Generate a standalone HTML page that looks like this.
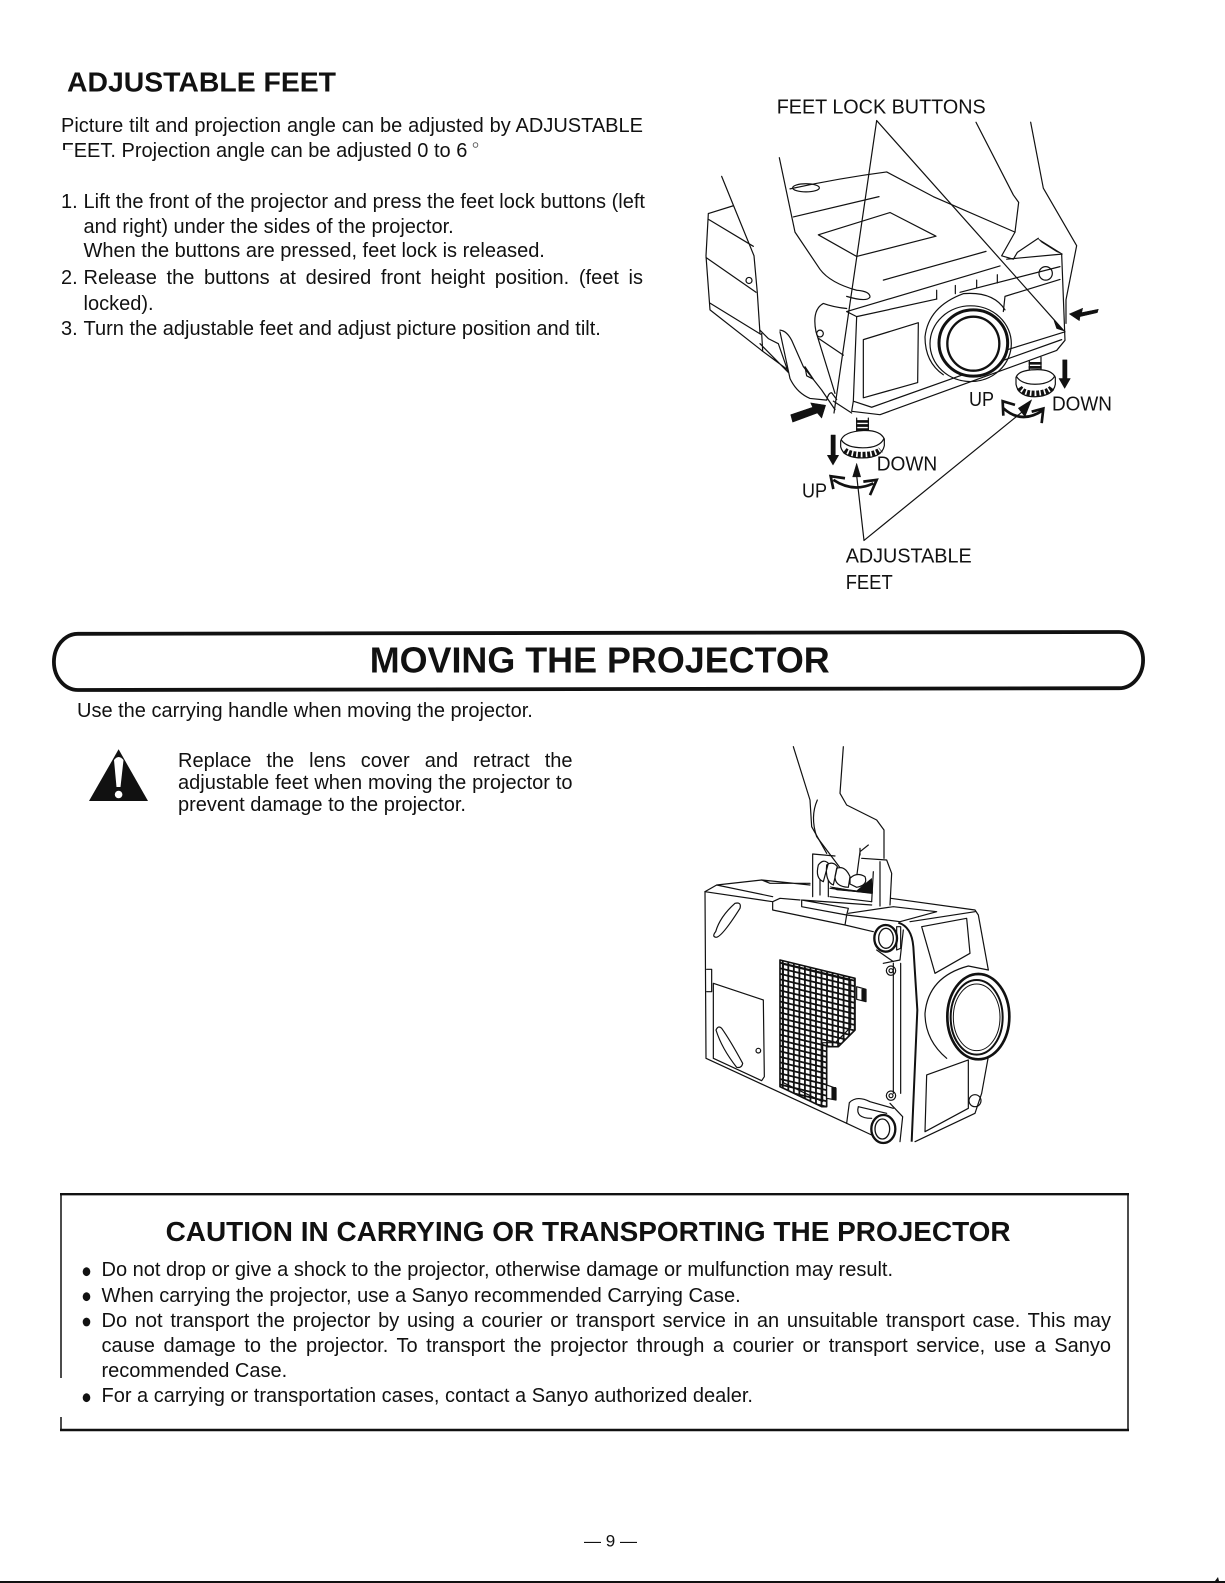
<!DOCTYPE html>
<html lang="en"><head><meta charset="utf-8"><title>Adjustable Feet</title>
<style>
html,body{margin:0;padding:0;background:#fff}
#p{position:relative;width:1225px;height:1583px;overflow:hidden;background:#fff;font-family:"Liberation Sans",Arial,sans-serif;color:#111}
.t{position:absolute;height:0;line-height:0;font-size:20px;white-space:nowrap;text-align:justify;text-align-last:justify;top:calc(var(--b)*1px - .3465em)}
svg{position:absolute;left:0;top:0}
svg text{font-family:"Liberation Sans",Arial,sans-serif;fill:#111}
.l{fill:none;stroke:#111;stroke-width:3.6;stroke-linejoin:round;stroke-linecap:round}
.k{fill:#111;stroke:#111;stroke-width:1.5;stroke-linejoin:round}
.w{fill:#fff;stroke:#111;stroke-width:3.6;stroke-linejoin:round}
.c{fill:none;stroke:#111;stroke-width:8;stroke-linejoin:miter;stroke-linecap:butt}
</style></head><body><div id="p">
<svg width="1225" height="1583" viewBox="0 0 1225 1583">
<defs>
<pattern id="g" width="16.6" height="16.6" patternUnits="userSpaceOnUse" patternTransform="translate(300 690) skewY(13.5)">
<rect width="16.6" height="16.6" fill="#fff"/><path d="M0 8.3H16.6M8.3 0V16.6" stroke="#111" stroke-width="5.4"/></pattern>
</defs>

<!-- ===== figure 1 ===== -->
<g transform="translate(680 80) scale(.33333 .33806)">
<!-- rear body -->
<path class="l" d="M85 395L160 372M85 395L78 520L90 680L245 800L320 855M85 412L220 492M78 525L228 628M90 660L242 752M245 750L248 800M240 740L265 765L295 780L325 865M240 780L325 865"/>
<circle class="l" cx="207" cy="593" r="9"/>
<!-- top -->
<path class="l" d="M330 322Q480 290 620 272L760 345L1005 450M340 405L597 345"/>
<ellipse class="l" cx="378" cy="319" rx="40" ry="12"/>
<path class="l" d="M415 458L630 392L768 462L530 522ZM610 592L918 507"/>
<!-- hands -->
<path class="l" d="M125 285L160 370L222 520L232 630L240 750"/>
<path class="l" d="M298 230L345 450L420 560Q450 600 530 622Q570 625 570 642Q560 658 500 640"/>
<path class="l" d="M888 125L1000 340L1016 362L1005 450L965 520L1000 530L1012 510L1075 468"/>
<path class="l" d="M1052 125L1090 320L1190 490L1158 650V720"/>
<!-- lower-left hand and side panel -->
<path class="l" d="M300 740Q320 742 335 770L370 848L425 917L465 975"/>
<path class="l" d="M375 848L400 885L380 875Z"/>
<path class="l" d="M300 745L330 883Q350 925 390 942L440 947Q445 925 455 925L470 945"/>
<path class="l" d="M430 661Q395 680 408 745L465 927M430 661Q460 672 500 676M415 764L490 814"/>
<circle class="l" cx="420" cy="750" r="10"/>
<path class="l" d="M460 950L515 985"/>
<!-- front housing -->
<path class="l" d="M500 685L960 550M980 530L1145 515L1155 770M500 685L530 700L520 950L515 980L600 990L1130 800L1155 770M520 950L575 968L1145 768"/>
<path class="l" d="M530 700L770 648M840 628L1140 552"/>
<path class="l" d="M975 640L1140 590M975 640L970 685M1155 745L975 800"/>
<path class="k" stroke-width="5" d="M1075 470L1148 515L1130 508L1085 480Z"/>
<path class="l" d="M550 768L715 718L713 895L550 940Z"/>
<path class="l" d="M770 622V648M826 608V632M890 592V615M952 576V600"/>
<circle class="l" cx="1097" cy="572" r="20"/>
<!-- lens -->
<path class="l" d="M790 872Q735 835 735 760Q745 670 850 632Q940 625 975 680"/>
<ellipse class="l" cx="872" cy="780" rx="122" ry="112" />
<ellipse cx="880" cy="778" rx="103" ry="98" fill="#fff" stroke="#111" stroke-width="9"/>
<ellipse cx="880" cy="780" rx="78" ry="80" fill="#fff" stroke="#111" stroke-width="7"/>
<!-- leaders -->
<path class="l" stroke-width="3" d="M590 120L462 985M590 120L1150 740M552 1362L530 1170M552 1362L1025 983"/>
<path class="k" d="M1122 712L1152 742L1130 735Z"/>
<path class="k" d="M530 1134L542 1174L518 1174Z"/>
<path class="k" d="M1055 946L1035 996L1015 971Z"/>
<!-- left foot -->
<path class="l" d="M530 1000V1055M565 1000V1055"/>
<path stroke="#111" stroke-width="8" fill="none" d="M528 1010H567M528 1022H567M528 1034H567M528 1046H567"/>
<path class="w" d="M482 1068V1085Q490 1118 548 1118Q605 1118 613 1082V1062Q600 1035 550 1037Q490 1040 482 1068Z"/>
<path class="l" d="M484 1065Q500 1088 548 1088Q600 1088 612 1060"/>
<path fill="none" stroke="#111" stroke-width="18" stroke-dasharray="9 5" d="M494 1096Q510 1109 548 1109Q585 1109 602 1094"/>
<!-- right foot -->
<path class="l" d="M1048 830V880M1083 820V875"/>
<path stroke="#111" stroke-width="8" fill="none" d="M1046 838H1085M1046 850H1085M1046 862H1085M1046 874H1085"/>
<path class="w" d="M1008 880V900Q1015 937 1065 937Q1120 935 1126 900V880Q1115 855 1065 857Q1015 858 1008 880Z"/>
<path class="l" d="M1010 878Q1025 900 1065 900Q1110 900 1124 876"/>
<path fill="none" stroke="#111" stroke-width="18" stroke-dasharray="9 5" d="M1018 910Q1030 928 1065 928Q1105 926 1116 910"/>
<!-- block arrows -->
<path class="k" d="M332 990L398 968L392 955L437 962L425 1000L412 985L338 1012Z"/>
<path class="k" d="M1255 678L1205 688L1208 675L1168 692L1198 712L1200 700L1252 688Z"/>
<path class="k" d="M453 1050H466V1110L476 1110L459 1139L442 1110L453 1110Z"/>
<path class="k" d="M1148 828H1161V883L1171 883L1154 912L1137 883L1148 883Z"/>
<!-- curved arrows -->
<path class="c" d="M460 1183Q520 1222 580 1193M970 971Q1025 1020 1090 976"/>
<path class="c" d="M460 1210L452 1172L495 1178M550 1188L590 1183L570 1228M970 993L968 950L1005 961M1055 981L1090 972L1085 1015"/>
</g>
<g font-size="20">
<text x="776.7" y="113.5" textLength="209" lengthAdjust="spacingAndGlyphs">FEET LOCK BUTTONS</text>
<text x="1052" y="410.3" textLength="60" lengthAdjust="spacingAndGlyphs">DOWN</text>
<text x="969" y="406.2" textLength="25" lengthAdjust="spacingAndGlyphs">UP</text>
<text x="876.7" y="470.5" textLength="60.5" lengthAdjust="spacingAndGlyphs">DOWN</text>
<text x="802" y="497.5" textLength="25" lengthAdjust="spacingAndGlyphs">UP</text>
<text x="845.7" y="562.5" textLength="126" lengthAdjust="spacingAndGlyphs">ADJUSTABLE</text>
<text x="845.7" y="589" textLength="47" lengthAdjust="spacingAndGlyphs">FEET</text>
</g>

<!-- ===== figure 2 ===== -->
<g transform="translate(680 730) scale(.33333)">
<!-- hand -->
<path class="l" d="M340 50L390 210L395 290L440 370"/>
<path class="l" d="M412 210Q390 260 410 320L500 440"/>
<path class="l" d="M490 50L480 190L500 225L590 270L612 300V385"/>
<path class="l" d="M565 345L540 365L530 440M540 355V375"/>
<!-- handle -->
<path class="l" d="M398 372V500M398 372L465 378M420 450V495M445 450V500M545 385L620 390L635 430L630 525M600 395V528M580 425L575 515M450 475L575 490"/>
<path class="w" d="M415 405Q430 385 445 400L430 455Q405 445 415 405ZM440 405Q458 392 472 410L460 465Q435 455 440 405ZM470 415Q495 405 510 440L505 472Q465 470 465 440ZM510 445Q530 425 555 440Q565 465 530 472L510 462Z"/>
<path class="k" d="M450 470L500 478L530 482L575 445L578 490L470 480Z"/>
<!-- top -->
<path class="l" d="M75 485L110 465L245 450L390 465M110 465L278 500M245 450L270 460H390M632 505L885 540L895 555L925 720"/>
<path class="l" d="M75 485L278 515L300 505L360 510M278 515V540L495 585L500 555L365 530V510L575 525M365 510L505 535L500 555M505 550L640 530L770 545L660 575L500 555M495 585L580 605M450 500L575 515"/>
<!-- side -->
<path class="l" d="M75 485L78 985L500 1180L508 1118Q530 1095 570 1115L640 1135"/>
<path class="l" d="M500 1180L575 1215M535 1130Q525 1165 575 1165M535 1130L620 1150"/>
<path class="l" d="M80 718H95V785H80"/>
<path class="l" d="M100 760L250 810L253 1040L245 1052L100 985V760"/>
<path class="l" d="M107 605Q95 620 108 622Q125 622 180 535Q185 515 165 520Q120 560 107 605Z"/>
<path class="l" d="M108 900Q115 885 125 895Q150 930 188 1000Q185 1015 170 1012Q125 955 108 900Z"/>
<circle class="l" cx="235" cy="962" r="7"/>
<!-- vent -->
<path fill="url(#g)" stroke="#111" stroke-width="5" stroke-linejoin="round" d="M300 690L525 745V900L475 950H440V1130H425L300 1070Z"/>
<path class="l" d="M310 703L512 752V892L466 938H428V1115L310 1058Z"/>
<path class="w" d="M530 770L558 778V815L530 808Z"/>
<path class="k" d="M545 778H556V812H545Z"/>
<path class="w" d="M440 1065L468 1075V1110L440 1105Z"/>
<path class="k" d="M455 1072H468V1108H455Z"/>
<!-- corner strip -->
<path class="l" d="M640 700V1090M662 700V1090M610 700L660 690L670 600M590 660L640 695M630 1120L668 1160L660 1235"/>
<circle class="l" cx="633" cy="722" r="14"/><circle class="l" cx="633" cy="722" r="6"/>
<circle class="l" cx="633" cy="1097" r="14"/><circle class="l" cx="633" cy="1097" r="6"/>
<path fill="none" stroke="#111" stroke-width="6" d="M655 578Q695 590 700 650L712 840L695 1235"/>
<path class="l" d="M690 575L885 545M705 1235L885 1150L905 1090L925 980"/>
<path class="l" d="M725 590L860 565L870 670L765 730Z"/>
<path class="l" d="M740 1035L865 990V1135L735 1205Z"/>
<circle class="l" cx="885" cy="1112" r="18"/>
<!-- knobs -->
<path class="w" d="M650 590L662 590V655L650 660Z"/>
<ellipse cx="617" cy="625" rx="34" ry="40" fill="#fff" stroke="#111" stroke-width="7"/>
<ellipse cx="618" cy="625" rx="22" ry="30" fill="#fff" stroke="#111" stroke-width="4"/>
<ellipse cx="610" cy="1197" rx="36" ry="42" fill="#fff" stroke="#111" stroke-width="7"/>
<ellipse cx="607" cy="1197" rx="22" ry="30" fill="#fff" stroke="#111" stroke-width="4"/>
<!-- lens -->
<path class="l" d="M800 985Q735 930 735 850Q745 740 865 708L925 720"/>
<ellipse cx="895" cy="860" rx="93" ry="128" fill="#fff" stroke="#111" stroke-width="8"/>
<ellipse cx="890" cy="862" rx="78" ry="112" fill="#fff" stroke="#111" stroke-width="6"/>
<ellipse cx="890" cy="862" rx="70" ry="100" fill="#fff" stroke="#111" stroke-width="3"/>
</g>

<!-- section band -->
<path fill="none" stroke="#111" stroke-width="3.8" d="M78 633.8L1119 632A24 28 0 0 1 1119 688.2L78 690A24 28 0 0 1 78 633.8Z"/>

<!-- warning triangle -->
<path d="M118.6 749.3L148 801H89Z" fill="#111"/>
<path d="M114 760Q118.6 754 123.5 760L120.5 787H116.5Z" fill="#fff"/>
<circle cx="118.6" cy="794.5" r="3.8" fill="#fff"/>

<!-- caution frame -->
<path stroke="#111" fill="none" stroke-width="2.4" d="M60 1194.2H1129"/>
<path stroke="#111" fill="none" stroke-width="2.6" d="M60 1430H1129"/>
<path stroke="#111" fill="none" stroke-width="1.5" d="M1128 1194V1431M61 1194V1378M61 1417V1431"/>
<g fill="#111">
<ellipse cx="86.5" cy="1271.7" rx="3.8" ry="4.4"/>
<ellipse cx="86.5" cy="1296.7" rx="3.8" ry="4.4"/>
<ellipse cx="86.5" cy="1322" rx="3.8" ry="4.4"/>
<ellipse cx="86.5" cy="1397.7" rx="3.8" ry="4.4"/>
</g>

<!-- headings -->
<text x="67" y="91.7" font-size="28" font-weight="700" textLength="269" lengthAdjust="spacingAndGlyphs">ADJUSTABLE FEET</text>
<text x="369.7" y="672.7" font-size="36" font-weight="700" textLength="460" lengthAdjust="spacingAndGlyphs">MOVING THE PROJECTOR</text>
<text x="165.6" y="1241" font-size="28" font-weight="700" textLength="845" lengthAdjust="spacingAndGlyphs">CAUTION IN CARRYING OR TRANSPORTING THE PROJECTOR</text>

<!-- footer -->
<text x="584" y="1546.7" font-size="17" textLength="53">— 9 —</text>
<path d="M0 1582H1225" stroke="#111" stroke-width="2"/>
<path d="M1215 1581L1218 1577L1219 1581Z" fill="#111"/>
<circle cx="475.5" cy="145" r="2.3" fill="none" stroke="#555" stroke-width=".9"/>
</svg>

<div class="t" style="--b:132.7;left:61px;width:582px">Picture tilt and projection angle can be adjusted by ADJUSTABLE</div>
<div class="t" style="--b:158.3;left:61.5px;width:405.5px">FEET. Projection angle can be adjusted 0 to 6</div>
<div style="position:absolute;left:60px;top:149.5px;width:12.5px;height:12px;background:#fff"></div>

<div class="t" style="--b:209.3;left:61px">1.</div>
<div class="t" style="--b:209.3;left:83.5px;width:559.5px">Lift the front of the projector and press the feet lock buttons (left</div>
<div class="t" style="--b:234.3;left:83.5px;width:369.5px">and right) under the sides of the projector.</div>
<div class="t" style="--b:258.3;left:83.5px;width:458.5px">When the buttons are pressed, feet lock is released.</div>
<div class="t" style="--b:285;left:61px">2.</div>
<div class="t" style="--b:285;left:83.5px;width:559.5px">Release the buttons at desired front height position. (feet is</div>
<div class="t" style="--b:310.7;left:83.5px">locked).</div>
<div class="t" style="--b:335.7;left:61px">3.</div>
<div class="t" style="--b:335.7;left:83.5px;width:516px">Turn the adjustable feet and adjust picture position and tilt.</div>

<div class="t" style="--b:718;left:77px;width:455px">Use the carrying handle when moving the projector.</div>
<div class="t" style="--b:768;left:178px;width:394.5px">Replace the lens cover and retract the</div>
<div class="t" style="--b:790;left:178px;width:394.5px">adjustable feet when moving the projector to</div>
<div class="t" style="--b:811.7;left:178px;width:284.6px">prevent damage to the projector.</div>

<div class="t" style="--b:1277;left:101.5px;width:787.5px">Do not drop or give a shock to the projector, otherwise damage or mulfunction may result.</div>
<div class="t" style="--b:1302.7;left:101.5px;width:636.5px">When carrying the projector, use a Sanyo recommended Carrying Case.</div>
<div class="t" style="--b:1327.7;left:101.5px;width:1009.5px">Do not transport the projector by using a courier or transport service in an unsuitable transport case. This may</div>
<div class="t" style="--b:1352.7;left:101.5px;width:1009.5px">cause damage to the projector. To transport the projector through a courier or transport service, use a Sanyo</div>
<div class="t" style="--b:1378.3;left:101.5px;width:183.5px">recommended Case.</div>
<div class="t" style="--b:1403.3;left:101.5px;width:650px">For a carrying or transportation cases, contact a Sanyo authorized dealer.</div>
</div></body></html>
